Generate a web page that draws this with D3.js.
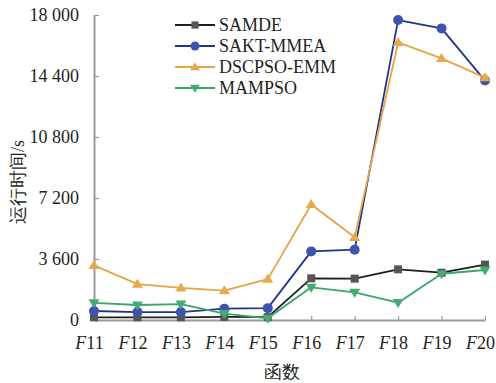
<!DOCTYPE html>
<html><head><meta charset="utf-8">
<script src="https://cdn.jsdelivr.net/npm/d3@7"></script>
<style>
html,body{margin:0;padding:0;background:#fff;}
svg{display:block;}
text{font-family:"Liberation Serif","Times New Roman",serif;}
</style></head>
<body>
<svg id="chart" width="496" height="383"></svg>
<script>
const categories = ["11","12","13","14","15","16","17","18","19","20"];
const seriesNames = ["SAMDE","SAKT-MMEA","DSCPSO-EMM","MAMPSO"];
const samde   = [160, 160, 160, 180, 170, 2460, 2440, 2990, 2790, 3270];
const saktmmea= [530, 470, 470, 670, 700, 4050, 4150, 17700, 17210, 14130];
const dscpso  = [3220, 2120, 1890, 1730, 2410, 6820, 4880, 16380, 15440, 14300];
const mampso  = [1010, 885, 940, 380, 100, 1930, 1630, 1020, 2730, 2950];
const yTicks = [0, 3600, 7200, 10800, 14400, 18000];
const yTickLabels = ["0","3 600","7 200","10 800","14 400","18 000"];

const colors = {line:["#1e1e1e","#22338f","#e6a446","#3aa56c"], mark:["#555555","#3e53b0","#e6a94e","#45aa74"]};
const shapes = ["square","circle","triangle","triangleDown"];
const seriesData = [samde, saktmmea, dscpso, mampso];

const svg = d3.select("#chart");
const x = d3.scalePoint().domain(categories).range([94, 485]);
const y = d3.scaleLinear().domain([0, 18000]).range([320, 15]);

// Axes
const yAxis = d3.axisLeft(y).tickValues(yTicks).tickFormat((d,i)=>yTickLabels[i]).tickSizeInner(-5).tickSizeOuter(0).tickPadding(15);
const gy = svg.append("g").attr("transform","translate(94,0)").call(yAxis);
gy.selectAll("text").attr("font-size",18).attr("fill","#231f20").attr("font-family","Liberation Serif");
gy.select(".domain").attr("stroke","#9a9a9a").attr("stroke-width",2);
gy.selectAll(".tick line").attr("stroke","#9a9a9a").attr("stroke-width",1.2);

const xAxis = d3.axisBottom(x).tickSizeInner(-4).tickSizeOuter(0).tickPadding(16).tickFormat(()=>"");
const gx = svg.append("g").attr("transform","translate(0,320)").call(xAxis);
gx.select(".domain").attr("stroke","#9a9a9a").attr("stroke-width",2);
gx.selectAll(".tick line").attr("stroke","#9a9a9a").attr("stroke-width",1.2);
gx.selectAll(".tick text").each(function(d){
  const t = d3.select(this).attr("font-size",18).attr("fill","#231f20").attr("font-family","Liberation Serif").attr("dx",-5);
  t.append("tspan").attr("font-style","italic").text("F");
  t.append("tspan").text(d);
});

// symbols
function drawMarker(g, shape, cx, cy, color, scale){
  scale = scale||1;
  if(shape==="square"){
    const s=8*scale;
    g.append("rect").attr("x",cx-s/2).attr("y",cy-s/2).attr("width",s).attr("height",s).attr("fill",color);
  } else if(shape==="circle"){
    g.append("circle").attr("cx",cx).attr("cy",cy).attr("r",5*scale).attr("fill",color);
  } else if(shape==="triangle"){
    const w=11*scale,h=9*scale;
    g.append("path").attr("d",`M${cx},${cy-h*0.6}L${cx+w/2},${cy+h*0.4}L${cx-w/2},${cy+h*0.4}Z`).attr("fill",color);
  } else {
    const w=11*scale,h=9*scale;
    g.append("path").attr("d",`M${cx},${cy+h*0.6}L${cx+w/2},${cy-h*0.4}L${cx-w/2},${cy-h*0.4}Z`).attr("fill",color);
  }
}

const line = d3.line().x((d,i)=>x(categories[i])).y(d=>y(d));
seriesData.forEach((vals, si)=>{
  const g = svg.append("g");
  g.append("path").datum(vals).attr("d",line).attr("fill","none").attr("stroke",colors.line[si]).attr("stroke-width",1.8).attr("stroke-linejoin","round");
  vals.forEach((v,i)=>drawMarker(g, shapes[si], x(categories[i]), y(v), colors.mark[si]));
});

// Legend
const lg = svg.append("g");
seriesNames.forEach((name, i)=>{
  const ly = 25 + i*21;
  lg.append("line").attr("x1",175).attr("x2",215).attr("y1",ly).attr("y2",ly).attr("stroke",colors.line[i]).attr("stroke-width",1.8);
  drawMarker(lg, shapes[i], 195, ly, colors.mark[i], 0.9);
  lg.append("text").attr("x",219).attr("y",ly+6).attr("font-size",18).attr("fill","#231f20").text(name);
});

// Titles
svg.append("text").attr("x",282).attr("y",378).attr("text-anchor","middle").attr("font-size",18)
  .attr("font-family","Noto Sans CJK SC").attr("fill","#231f20").text("函数");
svg.append("text").attr("transform","translate(24,182) rotate(-90)").attr("text-anchor","middle").attr("font-size",18)
  .attr("fill","#231f20").attr("font-family","Noto Sans CJK SC").text("运行时间/s");
</script>
</body></html>
